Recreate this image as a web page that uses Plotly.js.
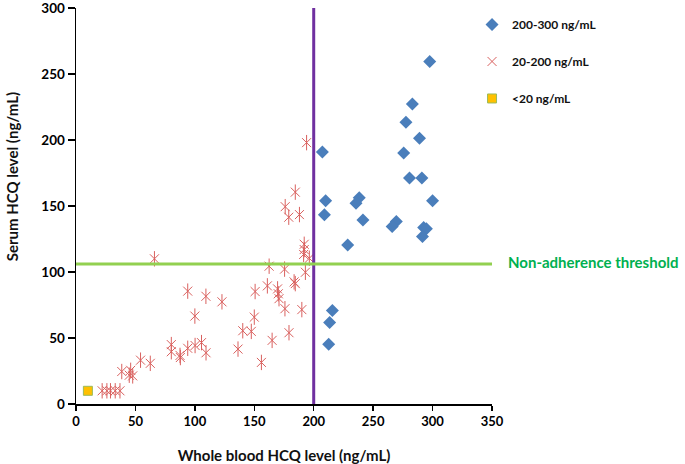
<!DOCTYPE html>
<html>
<head>
<meta charset="utf-8">
<script src="https://cdn.plot.ly/plotly-3.0.1.min.js"></script>
<style>html,body{margin:0;padding:0;background:#fff;}#chart{width:685px;height:464px;}</style>
</head>
<body>
<div id="chart"></div>
<script>
// Whole blood HCQ (x) vs serum HCQ (y), ng/mL
const highX = [297.6,283,277.6,289,207.3,275.7,280.6,291,210,238.3,235.6,300,209,241.4,269.5,266,292.5,294.8,291.5,228.6,215.7,213.4,212.6];
const highY = [259.4,227.2,213.4,201.4,191,190.2,171.2,171.2,154,156.2,152,154,143.4,139.4,138.3,134.5,133.8,132.8,126.8,120.4,70.9,61.7,45.3];

const midX = [194,184.5,176,179,188,192,192,191.5,196.3,66,162.5,175.5,193,183.5,184.5,161,169.6,150.7,170.2,170.8,94,109.3,122.8,175.8,190,100,150,140.3,147.5,179.2,165,80.2,80.2,87.5,87.8,94,100.2,105.6,109.4,136.3,156,54.3,62.5,38.5,46,44.8,47.7,22,26,29,33,37];
const midY = [198,160.5,149.5,141.5,143.5,121,117,113.3,110.4,110,104.4,102.2,99.8,92.5,91.2,89.5,87.2,85.2,83.5,79.8,85.5,81.6,77.4,72.2,71.5,66.6,65.8,55.5,55,54,48.2,45,39.6,36.8,35.2,42.2,44.3,46.5,38.8,41.6,31.5,33.2,30.8,24.6,25.5,21.8,21.3,10,10,10,10,10];

const lowX = [10];
const lowY = [10];

const seriesNames = ["200-300 ng/mL", "20-200 ng/mL", "<20 ng/mL"];
const wholeBloodCutoff = 200;     // vertical line
const nonAdherenceThreshold = 106; // horizontal line
const xRange = [0, 350];
const yRange = [0, 300.001];
const xTicks = [0, 50, 100, 150, 200, 250, 300, 350];
const yTicks = [0, 50, 100, 150, 200, 250, 300];

const FONT = "Lato, 'Open Sans', sans-serif";
const redCol = '#D9605E';

const traces = [
  {x: highX, y: highY, type: 'scatter', mode: 'markers', name: seriesNames[0], legendgroup: 'a',
   marker: {symbol: 'diamond', size: 10, color: '#4A7EBB', line: {width: 0}}},
  {x: midX, y: midY, type: 'scatter', mode: 'markers', name: seriesNames[1], legendgroup: 'b',
   marker: {symbol: 'x-thin-open', size: 9, color: redCol, line: {width: 1, color: redCol}}},
  {x: midX, y: midY, type: 'scatter', mode: 'markers', name: seriesNames[1], legendgroup: 'b', showlegend: false,
   marker: {symbol: 'line-ns-open', size: 11, color: redCol, line: {width: 1, color: redCol}}},
  {x: lowX, y: lowY, type: 'scatter', mode: 'markers', name: seriesNames[2], legendgroup: 'c',
   marker: {symbol: 'square', size: 9, color: '#FFC000', line: {width: 1, color: '#9BBB59'}}}
];

const layout = {
  width: 685, height: 464,
  margin: {l: 76, r: 193, t: 8, b: 60},
  paper_bgcolor: '#fff', plot_bgcolor: '#fff',
  font: {family: FONT, color: '#000'},
  showlegend: true,
  legend: {x: 0.952, xanchor: 'left', y: 0.995, yanchor: 'top', bgcolor: 'rgba(0,0,0,0)',
           font: {size: 12, family: FONT, weight: 'bold', color: '#111'}, tracegroupgap: 18},
  xaxis: {range: xRange, tickvals: xTicks, ticktext: xTicks.map(String), showgrid: false, zeroline: false,
          showline: true, linecolor: '#000', linewidth: 1.5, ticks: 'outside', ticklen: 5, tickcolor: '#000', tickwidth: 1.5,
          ticklabeloverflow: 'allow',
          tickfont: {size: 13, family: FONT, weight: 'bold', color: '#000'},
          title: {text: 'Whole blood HCQ level (ng/mL)', font: {size: 15, family: FONT, weight: 'bold', color: '#111'}, standoff: 22}},
  yaxis: {range: yRange, tickvals: yTicks, ticktext: yTicks.map(String), showgrid: false, zeroline: false,
          showline: true, linecolor: '#000', linewidth: 1.5, ticks: 'outside', ticklen: 7, tickcolor: '#000', tickwidth: 1.5,
          ticklabeloverflow: 'allow',
          tickfont: {size: 13.5, family: FONT, weight: 'bold', color: '#000'}},
  shapes: [
    {type: 'line', xref: 'x', yref: 'y', x0: wholeBloodCutoff, x1: wholeBloodCutoff, y0: 0, y1: 300,
     line: {color: '#7030A0', width: 3}},
    {type: 'line', xref: 'x', yref: 'y', x0: xRange[0], x1: xRange[1], y0: nonAdherenceThreshold, y1: nonAdherenceThreshold,
     line: {color: '#92D050', width: 3}}
  ],
  annotations: [
    {xref: 'x', yref: 'y', x: xRange[1], y: nonAdherenceThreshold, xanchor: 'left', yanchor: 'middle', xshift: 14, yshift: 2,
     text: 'Non-adherence threshold', showarrow: false,
     font: {size: 15, family: FONT, weight: 'bold', color: '#00B050'}},
    {xref: 'paper', yref: 'paper', x: -0.154, y: 0.575, xanchor: 'center', yanchor: 'middle', textangle: -90,
     text: 'Serum HCQ level (ng/mL)', showarrow: false,
     font: {size: 15, family: FONT, weight: 'bold', color: '#111'}}
  ]
};

Plotly.newPlot('chart', traces, layout, {displayModeBar: false, staticPlot: true});
</script>
</body>
</html>
